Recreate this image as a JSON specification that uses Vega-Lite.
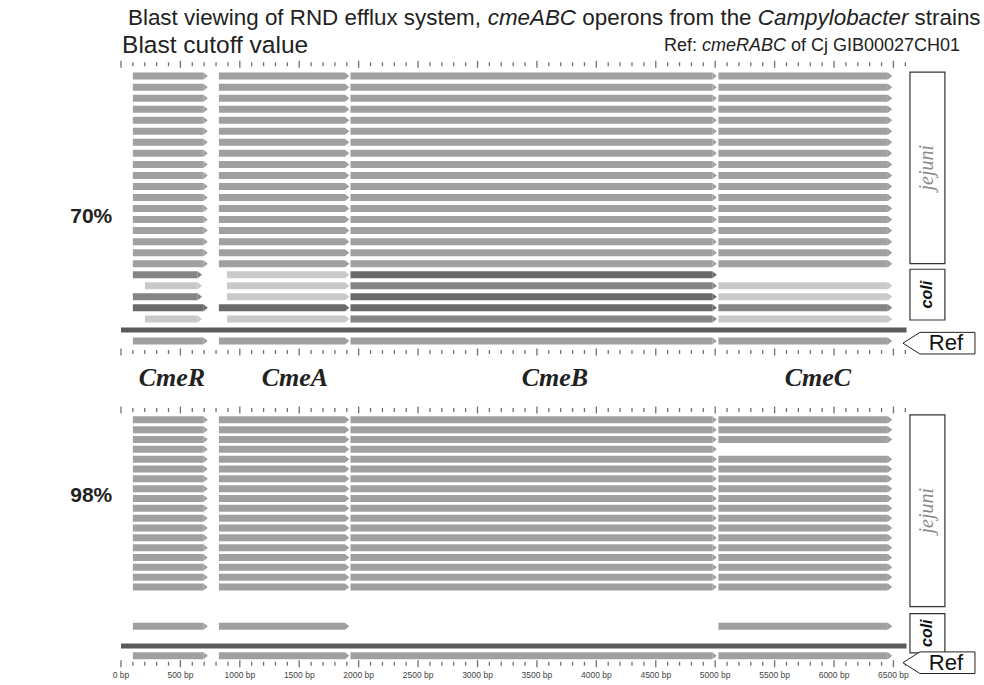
{
  "$schema": "https://vega.github.io/schema/vega-lite/v6.json",
  "width": 984,
  "height": 685,
  "autosize": {"type": "fit", "contains": "padding"},
  "padding": 0,
  "background": "white",
  "config": {"view": {"stroke": null}},
  "datasets": {
    "hits": [
      {"lane":0,"gene":"R","start":100,"end":694,"shade":"j"},{"lane":0,"gene":"A","start":824,"end":1885,"shade":"j"},{"lane":0,"gene":"B","start":1931,"end":4977,"shade":"j"},{"lane":0,"gene":"C","start":5027,"end":6453,"shade":"j"},
      {"lane":1,"gene":"R","start":100,"end":694,"shade":"j"},{"lane":1,"gene":"A","start":824,"end":1885,"shade":"j"},{"lane":1,"gene":"B","start":1931,"end":4977,"shade":"j"},{"lane":1,"gene":"C","start":5027,"end":6453,"shade":"j"},
      {"lane":2,"gene":"R","start":100,"end":694,"shade":"j"},{"lane":2,"gene":"A","start":824,"end":1885,"shade":"j"},{"lane":2,"gene":"B","start":1931,"end":4977,"shade":"j"},{"lane":2,"gene":"C","start":5027,"end":6453,"shade":"j"},
      {"lane":3,"gene":"R","start":100,"end":694,"shade":"j"},{"lane":3,"gene":"A","start":824,"end":1885,"shade":"j"},{"lane":3,"gene":"B","start":1931,"end":4977,"shade":"j"},{"lane":3,"gene":"C","start":5027,"end":6453,"shade":"j"},
      {"lane":4,"gene":"R","start":100,"end":694,"shade":"j"},{"lane":4,"gene":"A","start":824,"end":1885,"shade":"j"},{"lane":4,"gene":"B","start":1931,"end":4977,"shade":"j"},{"lane":4,"gene":"C","start":5027,"end":6453,"shade":"j"},
      {"lane":5,"gene":"R","start":100,"end":694,"shade":"j"},{"lane":5,"gene":"A","start":824,"end":1885,"shade":"j"},{"lane":5,"gene":"B","start":1931,"end":4977,"shade":"j"},{"lane":5,"gene":"C","start":5027,"end":6453,"shade":"j"},
      {"lane":6,"gene":"R","start":100,"end":694,"shade":"j"},{"lane":6,"gene":"A","start":824,"end":1885,"shade":"j"},{"lane":6,"gene":"B","start":1931,"end":4977,"shade":"j"},{"lane":6,"gene":"C","start":5027,"end":6453,"shade":"j"},
      {"lane":7,"gene":"R","start":100,"end":694,"shade":"j"},{"lane":7,"gene":"A","start":824,"end":1885,"shade":"j"},{"lane":7,"gene":"B","start":1931,"end":4977,"shade":"j"},{"lane":7,"gene":"C","start":5027,"end":6453,"shade":"j"},
      {"lane":8,"gene":"R","start":100,"end":694,"shade":"j"},{"lane":8,"gene":"A","start":824,"end":1885,"shade":"j"},{"lane":8,"gene":"B","start":1931,"end":4977,"shade":"j"},{"lane":8,"gene":"C","start":5027,"end":6453,"shade":"j"},
      {"lane":9,"gene":"R","start":100,"end":694,"shade":"j"},{"lane":9,"gene":"A","start":824,"end":1885,"shade":"j"},{"lane":9,"gene":"B","start":1931,"end":4977,"shade":"j"},{"lane":9,"gene":"C","start":5027,"end":6453,"shade":"j"},
      {"lane":10,"gene":"R","start":100,"end":694,"shade":"j"},{"lane":10,"gene":"A","start":824,"end":1885,"shade":"j"},{"lane":10,"gene":"B","start":1931,"end":4977,"shade":"j"},{"lane":10,"gene":"C","start":5027,"end":6453,"shade":"j"},
      {"lane":11,"gene":"R","start":100,"end":694,"shade":"j"},{"lane":11,"gene":"A","start":824,"end":1885,"shade":"j"},{"lane":11,"gene":"B","start":1931,"end":4977,"shade":"j"},{"lane":11,"gene":"C","start":5027,"end":6453,"shade":"j"},
      {"lane":12,"gene":"R","start":100,"end":694,"shade":"j"},{"lane":12,"gene":"A","start":824,"end":1885,"shade":"j"},{"lane":12,"gene":"B","start":1931,"end":4977,"shade":"j"},{"lane":12,"gene":"C","start":5027,"end":6453,"shade":"j"},
      {"lane":13,"gene":"R","start":100,"end":694,"shade":"j"},{"lane":13,"gene":"A","start":824,"end":1885,"shade":"j"},{"lane":13,"gene":"B","start":1931,"end":4977,"shade":"j"},{"lane":13,"gene":"C","start":5027,"end":6453,"shade":"j"},
      {"lane":14,"gene":"R","start":100,"end":694,"shade":"j"},{"lane":14,"gene":"A","start":824,"end":1885,"shade":"j"},{"lane":14,"gene":"B","start":1931,"end":4977,"shade":"j"},{"lane":14,"gene":"C","start":5027,"end":6453,"shade":"j"},
      {"lane":15,"gene":"R","start":100,"end":694,"shade":"j"},{"lane":15,"gene":"A","start":824,"end":1885,"shade":"j"},{"lane":15,"gene":"B","start":1931,"end":4977,"shade":"j"},{"lane":15,"gene":"C","start":5027,"end":6453,"shade":"j"},
      {"lane":16,"gene":"R","start":100,"end":694,"shade":"j"},{"lane":16,"gene":"A","start":824,"end":1885,"shade":"j"},{"lane":16,"gene":"B","start":1931,"end":4977,"shade":"j"},{"lane":16,"gene":"C","start":5027,"end":6453,"shade":"j"},
      {"lane":17,"gene":"R","start":100,"end":694,"shade":"j"},{"lane":17,"gene":"A","start":824,"end":1885,"shade":"j"},{"lane":17,"gene":"B","start":1931,"end":4977,"shade":"j"},{"lane":17,"gene":"C","start":5027,"end":6453,"shade":"j"},
      {"lane":18,"gene":"R","start":100,"end":645,"shade":"m"},{"lane":18,"gene":"A","start":892,"end":1885,"shade":"l"},{"lane":18,"gene":"B","start":1931,"end":4977,"shade":"d"},
      {"lane":19,"gene":"R","start":202,"end":645,"shade":"l"},{"lane":19,"gene":"A","start":892,"end":1885,"shade":"l"},{"lane":19,"gene":"B","start":1931,"end":4977,"shade":"m"},{"lane":19,"gene":"C","start":5027,"end":6453,"shade":"l"},
      {"lane":20,"gene":"R","start":100,"end":645,"shade":"m"},{"lane":20,"gene":"A","start":892,"end":1885,"shade":"l"},{"lane":20,"gene":"B","start":1931,"end":4977,"shade":"d"},{"lane":20,"gene":"C","start":5027,"end":6453,"shade":"l"},
      {"lane":21,"gene":"R","start":100,"end":694,"shade":"d"},{"lane":21,"gene":"A","start":824,"end":1885,"shade":"d"},{"lane":21,"gene":"B","start":1931,"end":4977,"shade":"d"},{"lane":21,"gene":"C","start":5027,"end":6453,"shade":"m"},
      {"lane":22,"gene":"R","start":202,"end":645,"shade":"l"},{"lane":22,"gene":"A","start":892,"end":1885,"shade":"l"},{"lane":22,"gene":"B","start":1931,"end":4977,"shade":"m"},{"lane":22,"gene":"C","start":5027,"end":6453,"shade":"l"},
      {"lane":24,"gene":"R","start":100,"end":694,"shade":"j"},{"lane":24,"gene":"A","start":824,"end":1885,"shade":"j"},{"lane":24,"gene":"B","start":1931,"end":4977,"shade":"j"},{"lane":24,"gene":"C","start":5027,"end":6453,"shade":"j"},
      {"lane":30,"gene":"R","start":100,"end":694,"shade":"j"},{"lane":30,"gene":"A","start":824,"end":1885,"shade":"j"},{"lane":30,"gene":"B","start":1931,"end":4977,"shade":"j"},{"lane":30,"gene":"C","start":5027,"end":6453,"shade":"j"},
      {"lane":31,"gene":"R","start":100,"end":694,"shade":"j"},{"lane":31,"gene":"A","start":824,"end":1885,"shade":"j"},{"lane":31,"gene":"B","start":1931,"end":4977,"shade":"j"},{"lane":31,"gene":"C","start":5027,"end":6453,"shade":"j"},
      {"lane":32,"gene":"R","start":100,"end":694,"shade":"j"},{"lane":32,"gene":"A","start":824,"end":1885,"shade":"j"},{"lane":32,"gene":"B","start":1931,"end":4977,"shade":"j"},{"lane":32,"gene":"C","start":5027,"end":6453,"shade":"j"},
      {"lane":33,"gene":"R","start":100,"end":694,"shade":"j"},{"lane":33,"gene":"A","start":824,"end":1885,"shade":"j"},{"lane":33,"gene":"B","start":1931,"end":4977,"shade":"j"},
      {"lane":34,"gene":"R","start":100,"end":694,"shade":"j"},{"lane":34,"gene":"A","start":824,"end":1885,"shade":"j"},{"lane":34,"gene":"B","start":1931,"end":4977,"shade":"j"},{"lane":34,"gene":"C","start":5027,"end":6453,"shade":"j"},
      {"lane":35,"gene":"R","start":100,"end":694,"shade":"j"},{"lane":35,"gene":"A","start":824,"end":1885,"shade":"j"},{"lane":35,"gene":"B","start":1931,"end":4977,"shade":"j"},{"lane":35,"gene":"C","start":5027,"end":6453,"shade":"j"},
      {"lane":36,"gene":"R","start":100,"end":694,"shade":"j"},{"lane":36,"gene":"A","start":824,"end":1885,"shade":"j"},{"lane":36,"gene":"B","start":1931,"end":4977,"shade":"j"},{"lane":36,"gene":"C","start":5027,"end":6453,"shade":"j"},
      {"lane":37,"gene":"R","start":100,"end":694,"shade":"j"},{"lane":37,"gene":"A","start":824,"end":1885,"shade":"j"},{"lane":37,"gene":"B","start":1931,"end":4977,"shade":"j"},{"lane":37,"gene":"C","start":5027,"end":6453,"shade":"j"},
      {"lane":38,"gene":"R","start":100,"end":694,"shade":"j"},{"lane":38,"gene":"A","start":824,"end":1885,"shade":"j"},{"lane":38,"gene":"B","start":1931,"end":4977,"shade":"j"},{"lane":38,"gene":"C","start":5027,"end":6453,"shade":"j"},
      {"lane":39,"gene":"R","start":100,"end":694,"shade":"j"},{"lane":39,"gene":"A","start":824,"end":1885,"shade":"j"},{"lane":39,"gene":"B","start":1931,"end":4977,"shade":"j"},{"lane":39,"gene":"C","start":5027,"end":6453,"shade":"j"},
      {"lane":40,"gene":"R","start":100,"end":694,"shade":"j"},{"lane":40,"gene":"A","start":824,"end":1885,"shade":"j"},{"lane":40,"gene":"B","start":1931,"end":4977,"shade":"j"},{"lane":40,"gene":"C","start":5027,"end":6453,"shade":"j"},
      {"lane":41,"gene":"R","start":100,"end":694,"shade":"j"},{"lane":41,"gene":"A","start":824,"end":1885,"shade":"j"},{"lane":41,"gene":"B","start":1931,"end":4977,"shade":"j"},{"lane":41,"gene":"C","start":5027,"end":6453,"shade":"j"},
      {"lane":42,"gene":"R","start":100,"end":694,"shade":"j"},{"lane":42,"gene":"A","start":824,"end":1885,"shade":"j"},{"lane":42,"gene":"B","start":1931,"end":4977,"shade":"j"},{"lane":42,"gene":"C","start":5027,"end":6453,"shade":"j"},
      {"lane":43,"gene":"R","start":100,"end":694,"shade":"j"},{"lane":43,"gene":"A","start":824,"end":1885,"shade":"j"},{"lane":43,"gene":"B","start":1931,"end":4977,"shade":"j"},{"lane":43,"gene":"C","start":5027,"end":6453,"shade":"j"},
      {"lane":44,"gene":"R","start":100,"end":694,"shade":"j"},{"lane":44,"gene":"A","start":824,"end":1885,"shade":"j"},{"lane":44,"gene":"B","start":1931,"end":4977,"shade":"j"},{"lane":44,"gene":"C","start":5027,"end":6453,"shade":"j"},
      {"lane":45,"gene":"R","start":100,"end":694,"shade":"j"},{"lane":45,"gene":"A","start":824,"end":1885,"shade":"j"},{"lane":45,"gene":"B","start":1931,"end":4977,"shade":"j"},{"lane":45,"gene":"C","start":5027,"end":6453,"shade":"j"},
      {"lane":46,"gene":"R","start":100,"end":694,"shade":"j"},{"lane":46,"gene":"A","start":824,"end":1885,"shade":"j"},{"lane":46,"gene":"B","start":1931,"end":4977,"shade":"j"},{"lane":46,"gene":"C","start":5027,"end":6453,"shade":"j"},
      {"lane":47,"gene":"R","start":100,"end":694,"shade":"j"},{"lane":47,"gene":"A","start":824,"end":1885,"shade":"j"},{"lane":47,"gene":"B","start":1931,"end":4977,"shade":"j"},{"lane":47,"gene":"C","start":5027,"end":6453,"shade":"j"},
      {"lane":51,"gene":"R","start":100,"end":694,"shade":"j"},{"lane":51,"gene":"A","start":824,"end":1885,"shade":"j"},{"lane":51,"gene":"C","start":5027,"end":6453,"shade":"j"},
      {"lane":54,"gene":"R","start":100,"end":694,"shade":"j"},{"lane":54,"gene":"A","start":824,"end":1885,"shade":"j"},{"lane":54,"gene":"B","start":1931,"end":4977,"shade":"j"},{"lane":54,"gene":"C","start":5027,"end":6453,"shade":"j"}
    ],
    "refs": [{"lane":23,"start":0,"end":6610},{"lane":53,"start":0,"end":6610}],
    "ticks": [
      {"bp":0},{"bp":100},{"bp":200},{"bp":300},{"bp":400},{"bp":500},{"bp":600},{"bp":700},{"bp":800},{"bp":900},
      {"bp":1000},{"bp":1100},{"bp":1200},{"bp":1300},{"bp":1400},{"bp":1500},{"bp":1600},{"bp":1700},{"bp":1800},{"bp":1900},
      {"bp":2000},{"bp":2100},{"bp":2200},{"bp":2300},{"bp":2400},{"bp":2500},{"bp":2600},{"bp":2700},{"bp":2800},{"bp":2900},
      {"bp":3000},{"bp":3100},{"bp":3200},{"bp":3300},{"bp":3400},{"bp":3500},{"bp":3600},{"bp":3700},{"bp":3800},{"bp":3900},
      {"bp":4000},{"bp":4100},{"bp":4200},{"bp":4300},{"bp":4400},{"bp":4500},{"bp":4600},{"bp":4700},{"bp":4800},{"bp":4900},
      {"bp":5000},{"bp":5100},{"bp":5200},{"bp":5300},{"bp":5400},{"bp":5500},{"bp":5600},{"bp":5700},{"bp":5800},{"bp":5900},
      {"bp":6000},{"bp":6100},{"bp":6200},{"bp":6300},{"bp":6400},{"bp":6500},{"bp":6600}
    ],
    "bplabels": [
      {"bp":0,"label":"0 bp"},{"bp":500,"label":"500 bp"},{"bp":1000,"label":"1000 bp"},{"bp":1500,"label":"1500 bp"},
      {"bp":2000,"label":"2000 bp"},{"bp":2500,"label":"2500 bp"},{"bp":3000,"label":"3000 bp"},{"bp":3500,"label":"3500 bp"},
      {"bp":4000,"label":"4000 bp"},{"bp":4500,"label":"4500 bp"},{"bp":5000,"label":"5000 bp"},{"bp":5500,"label":"5500 bp"},
      {"bp":6000,"label":"6000 bp"},{"bp":6500,"label":"6500 bp"}
    ],
    "genelabels": [
      {"name":"CmeR","pos":429},{"name":"CmeA","pos":1464},{"name":"CmeB","pos":3652},{"name":"CmeC","pos":5865}
    ],
    "groups": [
      {"species":"jejuni","from":-0.36,"to":17.0,"mid":8.3},
      {"species":"coli","from":17.5,"to":22.1,"mid":19.8},
      {"species":"jejuni","from":29.5,"to":49.0,"mid":39.25},
      {"species":"coli","from":49.7,"to":53.7,"mid":51.7}
    ],
    "tags": [{"lane":24.2},{"lane":54.7}]
  },
  "layer": [
    {
      "data": {"name": "hits"},
      "mark": {"type": "bar", "orient": "horizontal", "size": 7},
      "encoding": {
        "x": {"field": "start", "type": "quantitative", "scale": {"domain": [-1018, 7262], "nice": false, "zero": false}, "axis": null},
        "x2": {"field": "end"},
        "y": {"field": "lane", "type": "quantitative", "scale": {"domain": [-6.4286, 25, 29, 56.5], "range": [0, 352, 410, 685], "nice": false, "zero": false}, "axis": null},
        "color": {"field": "shade", "type": "nominal", "scale": {"domain": ["j", "d", "m", "l"], "range": ["#a0a0a0", "#6a6a6a", "#858585", "#c9c9c9"]}, "legend": null}
      }
    },
    {
      "data": {"name": "hits"},
      "mark": {"type": "point", "shape": "M0,-1L1.25,0L0,1Z", "filled": true, "size": 49, "opacity": 1, "strokeWidth": 0},
      "encoding": {
        "x": {"field": "end", "type": "quantitative"},
        "y": {"field": "lane", "type": "quantitative"},
        "color": {"field": "shade", "type": "nominal", "legend": null}
      }
    },
    {
      "data": {"name": "refs"},
      "mark": {"type": "bar", "orient": "horizontal", "size": 5, "color": "#5a5a5a"},
      "encoding": {
        "x": {"field": "start", "type": "quantitative"},
        "x2": {"field": "end"},
        "y": {"field": "lane", "type": "quantitative"}
      }
    },
    {
      "data": {"name": "ticks"},
      "mark": {"type": "tick", "orient": "vertical", "thickness": 1.3, "color": "#333"},
      "encoding": {
        "x": {"field": "bp", "type": "quantitative"},
        "y": {"datum": -1.07, "type": "quantitative"},
        "size": {"condition": {"test": "datum.bp % 500 === 0", "value": 7}, "value": 4}
      }
    },
    {
      "data": {"name": "ticks"},
      "mark": {"type": "tick", "orient": "vertical", "thickness": 1.3, "color": "#333"},
      "encoding": {
        "x": {"field": "bp", "type": "quantitative"},
        "y": {"datum": 25, "type": "quantitative"},
        "size": {"condition": {"test": "datum.bp % 500 === 0", "value": 7}, "value": 4}
      }
    },
    {
      "data": {"name": "ticks"},
      "mark": {"type": "tick", "orient": "vertical", "thickness": 1.3, "color": "#333"},
      "encoding": {
        "x": {"field": "bp", "type": "quantitative"},
        "y": {"datum": 29, "type": "quantitative"},
        "size": {"condition": {"test": "datum.bp % 500 === 0", "value": 7}, "value": 4}
      }
    },
    {
      "data": {"name": "ticks"},
      "mark": {"type": "tick", "orient": "vertical", "thickness": 1.3, "color": "#333"},
      "encoding": {
        "x": {"field": "bp", "type": "quantitative"},
        "y": {"datum": 54.8, "type": "quantitative"},
        "size": {"condition": {"test": "datum.bp % 500 === 0", "value": 7}, "value": 4}
      }
    },
    {
      "data": {"name": "bplabels"},
      "mark": {"type": "text", "font": "Liberation Sans", "fontSize": 8.5, "color": "#444", "align": "center", "baseline": "middle"},
      "encoding": {
        "x": {"field": "bp", "type": "quantitative"},
        "y": {"datum": 56, "type": "quantitative"},
        "text": {"field": "label"}
      }
    },
    {
      "data": {"name": "genelabels"},
      "mark": {"type": "text", "font": "Liberation Serif", "fontSize": 26, "fontStyle": "italic", "fontWeight": "bold", "color": "#222", "align": "center", "baseline": "middle"},
      "encoding": {
        "x": {"field": "pos", "type": "quantitative"},
        "y": {"datum": 26.8, "type": "quantitative"},
        "text": {"field": "name"}
      }
    },
    {
      "data": {"name": "groups"},
      "mark": {"type": "rect", "fill": "white", "stroke": "#333", "strokeWidth": 1.2},
      "encoding": {
        "x": {"datum": 6639, "type": "quantitative"},
        "x2": {"datum": 6933},
        "y": {"field": "from", "type": "quantitative"},
        "y2": {"field": "to"}
      }
    },
    {
      "data": {"name": "groups"},
      "transform": [{"filter": "datum.species === 'jejuni'"}],
      "mark": {"type": "text", "font": "Liberation Serif", "fontSize": 20, "fontStyle": "italic", "color": "#888", "angle": 270, "align": "center", "baseline": "middle"},
      "encoding": {
        "x": {"datum": 6786, "type": "quantitative"},
        "y": {"field": "mid", "type": "quantitative"},
        "text": {"field": "species"}
      }
    },
    {
      "data": {"name": "groups"},
      "transform": [{"filter": "datum.species === 'coli'"}],
      "mark": {"type": "text", "font": "Liberation Sans", "fontSize": 16, "fontStyle": "italic", "fontWeight": "bold", "color": "#111", "angle": 270, "align": "center", "baseline": "middle"},
      "encoding": {
        "x": {"datum": 6786, "type": "quantitative"},
        "y": {"field": "mid", "type": "quantitative"},
        "text": {"field": "species"}
      }
    },
    {
      "data": {"name": "tags"},
      "mark": {"type": "point", "shape": "M-1,0L-0.53,-0.3L1,-0.3L1,0.3L-0.53,0.3Z", "size": 5184, "filled": false, "fill": "white", "fillOpacity": 1, "stroke": "#222", "strokeWidth": 1, "opacity": 1},
      "encoding": {
        "x": {"datum": 6883, "type": "quantitative"},
        "y": {"field": "lane", "type": "quantitative"}
      }
    },
    {
      "data": {"name": "tags"},
      "mark": {"type": "text", "font": "Liberation Sans", "fontSize": 22, "color": "#111", "align": "center", "baseline": "middle", "text": "Ref"},
      "encoding": {
        "x": {"datum": 6942, "type": "quantitative"},
        "y": {"field": "lane", "type": "quantitative"}
      }
    },
    {
      "data": {"values": [{}]},
      "mark": {"type": "text", "font": "Liberation Sans", "fontSize": 21, "fontWeight": "bold", "color": "#222", "align": "center", "baseline": "middle", "text": "70%"},
      "encoding": {"x": {"datum": -250, "type": "quantitative"}, "y": {"datum": 12.8, "type": "quantitative"}}
    },
    {
      "data": {"values": [{}]},
      "mark": {"type": "text", "font": "Liberation Sans", "fontSize": 21, "fontWeight": "bold", "color": "#222", "align": "center", "baseline": "middle", "text": "98%"},
      "encoding": {"x": {"datum": -250, "type": "quantitative"}, "y": {"datum": 37.7, "type": "quantitative"}}
    },
    {
      "data": {"values": [{}]},
      "mark": {"type": "text", "font": "Liberation Sans", "fontSize": 22.4, "color": "#222", "align": "left", "baseline": "middle", "text": "Blast viewing of RND efflux system,", "dx": 0},
      "encoding": {"x": {"datum": 59, "type": "quantitative"}, "y": {"datum": -5.3, "type": "quantitative"}}
    },
    {
      "data": {"values": [{}]},
      "mark": {"type": "text", "font": "Liberation Sans", "fontSize": 22.4, "fontStyle": "italic", "color": "#222", "align": "left", "baseline": "middle", "text": "cmeABC", "dx": 359.7},
      "encoding": {"x": {"datum": 59, "type": "quantitative"}, "y": {"datum": -5.3, "type": "quantitative"}}
    },
    {
      "data": {"values": [{}]},
      "mark": {"type": "text", "font": "Liberation Sans", "fontSize": 22.4, "color": "#222", "align": "left", "baseline": "middle", "text": "operons from the", "dx": 454.3},
      "encoding": {"x": {"datum": 59, "type": "quantitative"}, "y": {"datum": -5.3, "type": "quantitative"}}
    },
    {
      "data": {"values": [{}]},
      "mark": {"type": "text", "font": "Liberation Sans", "fontSize": 22.4, "fontStyle": "italic", "color": "#222", "align": "left", "baseline": "middle", "text": "Campylobacter", "dx": 629.8},
      "encoding": {"x": {"datum": 59, "type": "quantitative"}, "y": {"datum": -5.3, "type": "quantitative"}}
    },
    {
      "data": {"values": [{}]},
      "mark": {"type": "text", "font": "Liberation Sans", "fontSize": 22.4, "color": "#222", "align": "left", "baseline": "middle", "text": "strains", "dx": 786.6},
      "encoding": {"x": {"datum": 59, "type": "quantitative"}, "y": {"datum": -5.3, "type": "quantitative"}}
    },
    {
      "data": {"values": [{}]},
      "mark": {"type": "text", "font": "Liberation Sans", "fontSize": 24.5, "color": "#222", "align": "left", "baseline": "middle", "text": "Blast cutoff value"},
      "encoding": {"x": {"datum": 9, "type": "quantitative"}, "y": {"datum": -2.75, "type": "quantitative"}}
    },
    {
      "data": {"values": [{}]},
      "mark": {"type": "text", "font": "Liberation Sans", "fontSize": 18, "color": "#222", "align": "left", "baseline": "middle", "text": "Ref:", "dx": 0},
      "encoding": {"x": {"datum": 4569, "type": "quantitative"}, "y": {"datum": -2.75, "type": "quantitative"}}
    },
    {
      "data": {"values": [{}]},
      "mark": {"type": "text", "font": "Liberation Sans", "fontSize": 18, "fontStyle": "italic", "color": "#222", "align": "left", "baseline": "middle", "text": "cmeRABC", "dx": 38.0},
      "encoding": {"x": {"datum": 4569, "type": "quantitative"}, "y": {"datum": -2.75, "type": "quantitative"}}
    },
    {
      "data": {"values": [{}]},
      "mark": {"type": "text", "font": "Liberation Sans", "fontSize": 18, "color": "#222", "align": "left", "baseline": "middle", "text": "of Cj GIB00027CH01", "dx": 127.0},
      "encoding": {"x": {"datum": 4569, "type": "quantitative"}, "y": {"datum": -2.75, "type": "quantitative"}}
    }
  ]
}
